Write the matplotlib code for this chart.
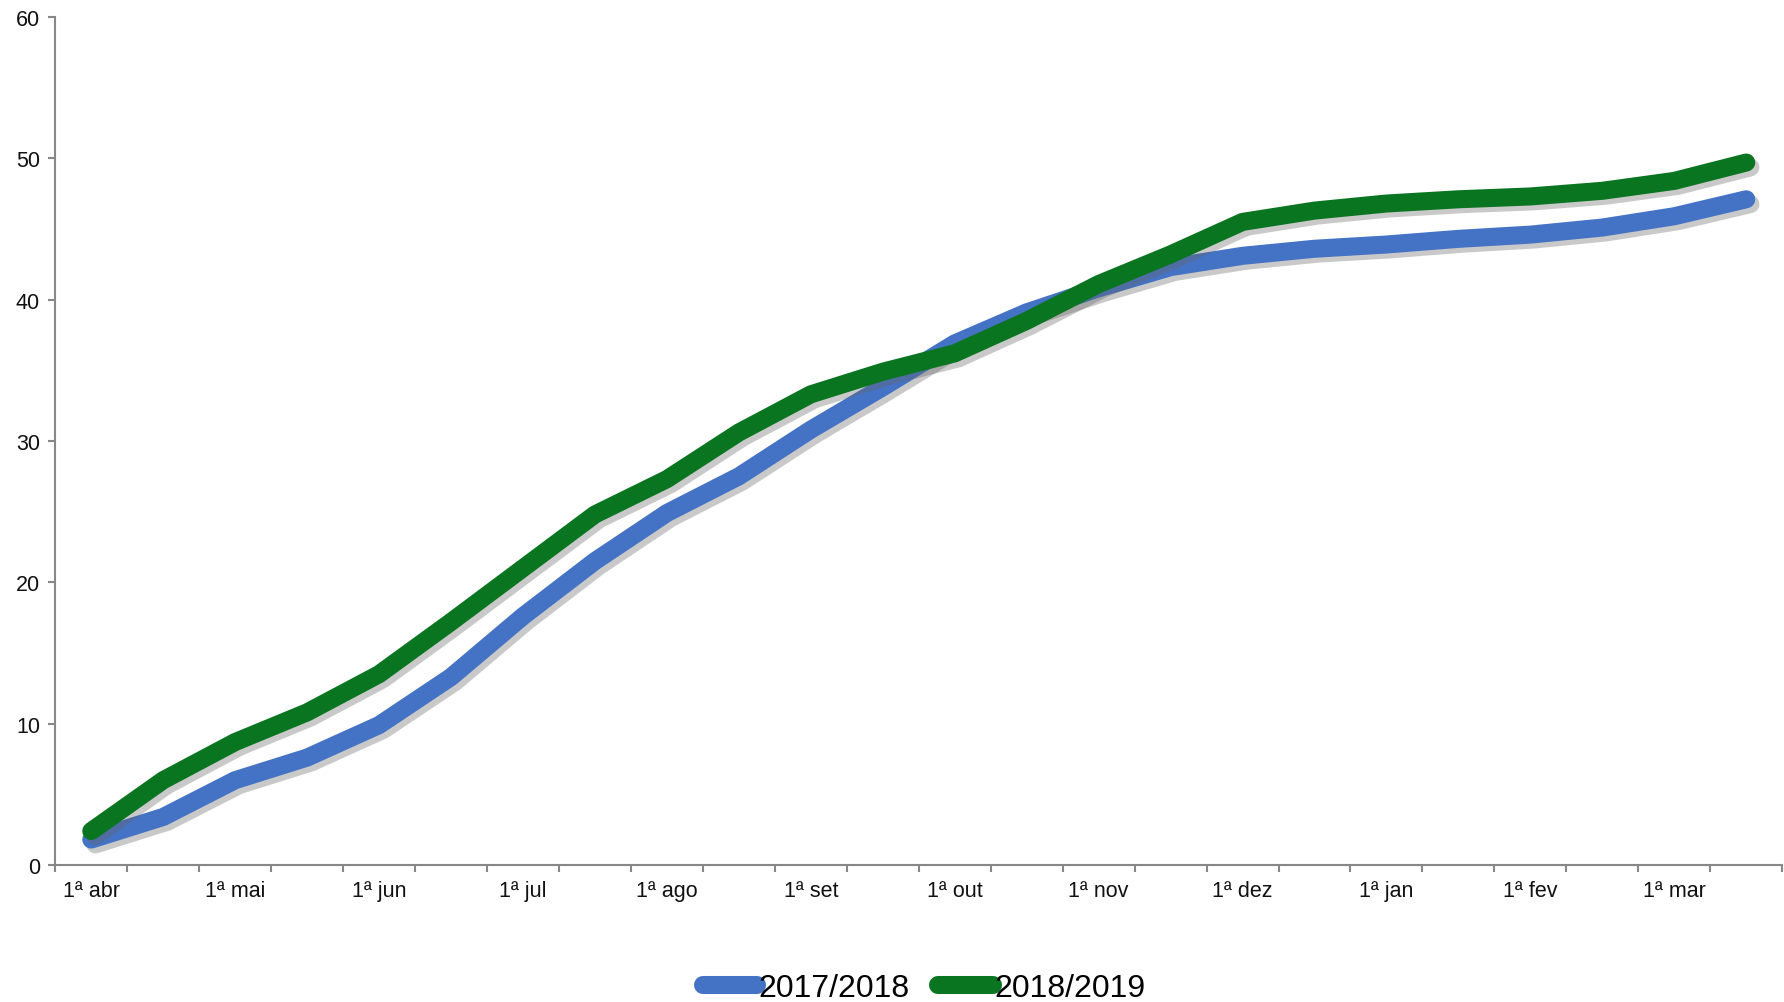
import matplotlib
matplotlib.use("Agg")
import matplotlib.pyplot as plt
import matplotlib.patheffects as pe
from matplotlib.lines import Line2D
import numpy as np

plt.rcParams['font.family'] = ['Liberation Sans', 'DejaVu Sans']

# quinzenas de abril a março
months = ["abr", "mai", "jun", "jul", "ago", "set", "out", "nov", "dez", "jan", "fev", "mar"]
categories = [f"{q}ª {m}" for m in months for q in (1, 2)]
tick_labels = [f"1ª {m}" for m in months]

series_names = ["2017/2018", "2018/2019"]
values_1718 = [1.8, 3.4, 6.0, 7.6, 9.9, 13.3, 17.6, 21.5, 24.9, 27.5, 30.8, 33.8,
               36.9, 39.1, 40.8, 42.3, 43.1, 43.6, 43.9, 44.3, 44.6, 45.1, 45.9, 47.1]
values_1819 = [2.4, 6.0, 8.7, 10.8, 13.5, 17.2, 21.0, 24.8, 27.3, 30.6, 33.3, 34.9,
               36.2, 38.5, 41.1, 43.2, 45.5, 46.3, 46.8, 47.1, 47.3, 47.7, 48.4, 49.7]
colors = ["#4472C4", "#0A7520"]

fig = plt.figure(figsize=(17.84, 10.03), dpi=100)
ax = fig.add_axes([0.031, 0.1366, 0.968, 0.8455])

x = np.arange(len(categories))
shadow = [pe.SimpleLineShadow(offset=(3, -3.5), shadow_color="#666666", alpha=0.35),
          pe.Normal()]
for vals, name, c in zip([values_1718, values_1819], series_names, colors):
    ax.plot(x, vals, color=c, lw=13, solid_capstyle="round", solid_joinstyle="round",
            path_effects=shadow, label=name)

ax.set_xlim(-0.5, len(categories) - 0.5)
ax.set_ylim(0, 60)
ax.set_yticks(np.arange(0, 61, 10))

# marcas nas fronteiras das categorias, rótulos só no início de cada mês
ax.set_xticks(np.arange(-0.5, len(categories), 1.0))
ax.set_xticklabels([])
ax.set_xticks(x[::2], minor=True)
ax.set_xticklabels(tick_labels, minor=True)
ax.tick_params(axis="x", which="minor", length=0, pad=11)

for s in ["top", "right"]:
    ax.spines[s].set_visible(False)
for s in ["left", "bottom"]:
    ax.spines[s].set_color("#888888")
    ax.spines[s].set_linewidth(1.5)
ax.tick_params(axis="both", which="major", color="#888888", width=1.5, length=5,
               labelsize=15.5, labelcolor="#111111")
ax.tick_params(axis="x", which="minor", labelsize=15.5, labelcolor="#111111")
ax.tick_params(axis="y", pad=6)

handles = [Line2D([], [], color=c, lw=13, solid_capstyle="round") for c in colors]
fig.legend(handles, series_names, loc="center", bbox_to_anchor=(0.518, 0.014),
           ncol=2, frameon=False, fontsize=23, handlelength=1.7, handletextpad=0.05,
           columnspacing=0.9, borderaxespad=0)

fig.savefig("out.png", dpi=100, facecolor="white")
